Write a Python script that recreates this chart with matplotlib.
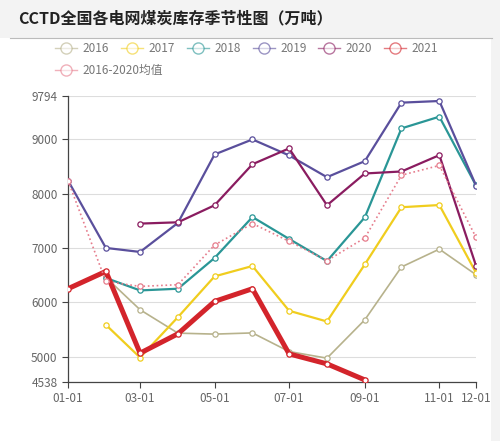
import numpy as np
import pandas as pd
import matplotlib
matplotlib.use('Agg')
import matplotlib.pyplot as plt
import matplotlib.dates as mdates
from matplotlib.lines import Line2D
from matplotlib.patches import Rectangle

plt.rcParams['font.family'] = ['Noto Sans CJK SC', 'DejaVu Sans']

# 数据（万吨），每月1日
months = ['01-01', '02-01', '03-01', '04-01', '05-01', '06-01',
          '07-01', '08-01', '09-01', '10-01', '11-01', '12-01']
nan = np.nan
s2016 = [nan, 6460, 5866, 5436, 5418, 5440, 5098, 4976, 5681, 6652, 6980, 6510]
s2017 = [nan, 5589, 4988, 5730, 6479, 6670, 5847, 5650, 6700, 7750, 7790, 6547]
s2018 = [nan, 6450, 6221, 6252, 6818, 7570, 7167, 6760, 7565, 9199, 9414, 8150]
s2019 = [8241, 7002, 6928, 7462, 8720, 8996, 8702, 8302, 8597, 9672, 9702, 8149]
s2020 = [nan, nan, 7449, 7473, 7786, 8540, 8831, 7786, 8370, 8407, 8707, 6676]
s2021 = [6252, 6571, 5068, 5424, 6019, 6252, 5055, 4871, 4576, nan, nan, nan]
avg = [8241, 6385, 6295, 6326, 7055, 7450, 7124, 6768, 7186, 8339, 8517, 7197]

yticks = [4538, 5000, 6000, 7000, 8000, 9000, 9794]
xtick_labels = ['01-01', '03-01', '05-01', '07-01', '09-01', '11-01', '12-01']

dates = pd.to_datetime(['2021-' + m for m in months])
xtick_dates = pd.to_datetime(['2021-' + m for m in xtick_labels])

series = [
    ('2016', s2016, '#b7b28c', 1.2, '-'),
    ('2017', s2017, '#f0cd1e', 1.6, '-'),
    ('2018', s2018, '#2a9696', 1.6, '-'),
    ('2019', s2019, '#5a4f9c', 1.6, '-'),
    ('2020', s2020, '#8a1c60', 1.6, '-'),
    ('2021', s2021, '#d3242b', 3.6, '-'),
    ('2016-2020均值', avg, '#e67c8c', 1.2, ':'),
]

fig = plt.figure(figsize=(5, 4.41), dpi=100)
fig.patch.set_facecolor('white')
# 顶部灰色标题栏和右侧灰条
fig.add_artist(Rectangle((0, 1 - 38 / 441), 1, 38 / 441, transform=fig.transFigure,
                         facecolor='#f3f3f3', edgecolor='none', zorder=0))
fig.add_artist(Rectangle((491 / 500, 0), 9 / 500, 1 - 38 / 441, transform=fig.transFigure,
                         facecolor='#f3f3f3', edgecolor='none', zorder=0))
fig.add_artist(Line2D([10 / 500, 492 / 500], [1 - 38 / 441] * 2, transform=fig.transFigure,
                      color='#bbbbbb', lw=0.8))

fig.text(18 / 500, 1 - 18 / 441, 'CCTD全国各电网煤炭库存季节性图（万吨）',
         fontsize=11.5, fontweight='bold', color='#222222', va='center', ha='left')

ax = fig.add_axes([68 / 500, 59 / 441, 408 / 500, 286 / 441])

for name, vals, color, lw, ls in series:
    ax.plot(dates, vals, color=color, lw=lw, ls=ls, marker='o', markersize=3.8,
            markerfacecolor='white', markeredgecolor=color, markeredgewidth=0.9,
            label=name, zorder=3)

ax.set_xlim(dates[0], dates[-1])
ax.set_ylim(yticks[0], yticks[-1])
ax.set_yticks(yticks)
ax.set_xticks(xtick_dates)
ax.xaxis.set_major_formatter(mdates.DateFormatter('%m-%d'))
ax.tick_params(axis='both', colors='#444444', labelcolor='#666666', labelsize=8.5,
               length=4, width=0.8)
ax.yaxis.grid(True, color='#dddddd', lw=0.8)
ax.set_axisbelow(True)
for sp in ['top', 'right']:
    ax.spines[sp].set_visible(False)
for sp in ['left', 'bottom']:
    ax.spines[sp].set_color('#444444')
    ax.spines[sp].set_linewidth(0.9)

# 图例
legend_pos = [(66, 48), (132, 48), (198, 48), (264, 48), (329, 48), (395, 48), (66, 70)]
for (name, vals, color, lw, ls), (px, py) in zip(series, legend_pos):
    yf = 1 - py / 441
    fig.add_artist(Line2D([(px - 11) / 500, (px + 11) / 500], [yf, yf],
                          transform=fig.transFigure, color=color, lw=1.0, alpha=0.6))
    fig.add_artist(Line2D([px / 500], [yf], transform=fig.transFigure, marker='o',
                          markersize=8, markerfacecolor='white', markeredgecolor=color,
                          markeredgewidth=1.0, alpha=0.6))
    fig.text((px + 16) / 500, yf, name, fontsize=8.5, color='#777777', va='center', ha='left')

fig.savefig('out.png', dpi=100)
